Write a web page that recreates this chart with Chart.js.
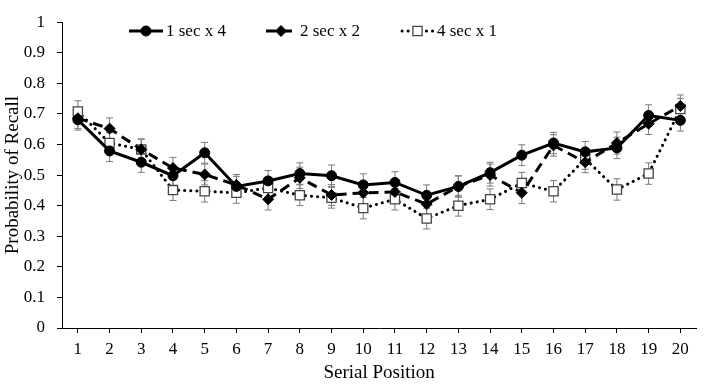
<!DOCTYPE html>
<html>
<head>
<meta charset="utf-8">
<style>
  html, body { margin: 0; padding: 0; background: #ffffff; }
  #wrap { width: 704px; height: 384px; }
</style>
<script src="https://cdn.jsdelivr.net/npm/chart.js@4.4.0/dist/chart.umd.min.js"></script>
</head>
<body>
<div id="wrap"><canvas id="c" width="704" height="384"></canvas></div>
<script>
// ---- data ----
const positions = ['1','2','3','4','5','6','7','8','9','10','11','12','13','14','15','16','17','18','19','20'];
const seriesNames = ['1 sec x 4', '2 sec x 2', '4 sec x 1'];
const oneSecX4 = [0.681, 0.579, 0.542, 0.498, 0.573, 0.463, 0.481, 0.505, 0.498, 0.468,
                  0.476, 0.434, 0.463, 0.508, 0.565, 0.605, 0.576, 0.589, 0.695, 0.679];
const twoSecX2 = [0.686, 0.652, 0.584, 0.523, 0.502, 0.468, 0.421, 0.491, 0.435, 0.442,
                  0.445, 0.405, 0.463, 0.500, 0.442, 0.597, 0.542, 0.605, 0.668, 0.726];
const fourSecX1 = [0.708, 0.605, 0.584, 0.451, 0.447, 0.442, 0.458, 0.434, 0.426, 0.392,
                   0.421, 0.358, 0.400, 0.421, 0.474, 0.447, 0.553, 0.453, 0.505, 0.716];
const errOne  = [0.034, 0.035, 0.033, 0.034, 0.034, 0.033, 0.034, 0.035, 0.035, 0.036,
                 0.035, 0.034, 0.035, 0.034, 0.034, 0.035, 0.034, 0.035, 0.035, 0.035];
const errTwo  = [0.034, 0.035, 0.034, 0.035, 0.034, 0.034, 0.035, 0.035, 0.034, 0.035,
                 0.034, 0.034, 0.034, 0.036, 0.035, 0.035, 0.034, 0.036, 0.035, 0.036];
const errFour = [0.035, 0.034, 0.034, 0.034, 0.035, 0.034, 0.035, 0.034, 0.034, 0.035,
                 0.035, 0.034, 0.034, 0.034, 0.035, 0.035, 0.034, 0.035, 0.035, 0.035];
const yTicks = [0, 0.1, 0.2, 0.3, 0.4, 0.5, 0.6, 0.7, 0.8, 0.9, 1];
const yTickLabels = ['0', '0.1', '0.2', '0.3', '0.4', '0.5', '0.6', '0.7', '0.8', '0.9', '1'];

const FONT = "'Liberation Serif', 'Times New Roman', serif";

const errorSets = [errOne, errTwo, errFour];

const errorBarPlugin = {
  id: 'errorBars',
  beforeDatasetsDraw(chart) {
    const ctx = chart.ctx;
    const xs = chart.scales.x, ys = chart.scales.y;
    ctx.save();
    ctx.strokeStyle = '#7a7a7a';
    ctx.lineWidth = 1;
    chart.data.datasets.forEach((ds, di) => {
      const errs = errorSets[di];
      ds.data.forEach((v, i) => {
        const x = xs.getPixelForValue(i);
        const yt = ys.getPixelForValue(v + errs[i]);
        const yb = ys.getPixelForValue(v - errs[i]);
        ctx.beginPath();
        ctx.moveTo(x, yt); ctx.lineTo(x, yb);
        ctx.moveTo(x - 3.5, yt); ctx.lineTo(x + 3.5, yt);
        ctx.moveTo(x - 3.5, yb); ctx.lineTo(x + 3.5, yb);
        ctx.stroke();
      });
    });
    ctx.restore();
  }
};

const legendPlugin = {
  id: 'inlineLegend',
  afterDraw(chart) {
    const ctx = chart.ctx;
    const y = 31;
    const items = [
      { x0: 129, x1: 163, tx: 166, ds: chart.data.datasets[0] },
      { x0: 266, x1: 296, tx: 300, ds: chart.data.datasets[1] },
      { x0: 402, x1: 433, tx: 437, ds: chart.data.datasets[2] }
    ];
    ctx.save();
    items.forEach((it, k) => {
      const ds = it.ds;
      ctx.beginPath();
      ctx.strokeStyle = ds.borderColor;
      ctx.lineWidth = ds.borderWidth;
      ctx.setLineDash(ds.borderDash || []);
      ctx.lineCap = ds.borderCapStyle || 'butt';
      ctx.moveTo(it.x0, y); ctx.lineTo(it.x1, y);
      ctx.stroke();
      ctx.setLineDash([]);
      ctx.lineCap = 'butt';
      ctx.fillStyle = ds.pointBackgroundColor;
      ctx.strokeStyle = ds.pointBorderColor;
      ctx.lineWidth = ds.pointBorderWidth;
      Chart.helpers.drawPoint(ctx, {
        pointStyle: ds.pointStyle,
        radius: ds.pointRadius,
        rotation: 0,
        borderWidth: ds.pointBorderWidth
      }, (it.x0 + it.x1) / 2, y);
      ctx.fillStyle = '#000';
      ctx.font = "17px " + FONT;
      ctx.textBaseline = 'middle';
      ctx.textAlign = 'left';
      ctx.fillText(seriesNames[k], it.tx, y + 1);
    });
    ctx.restore();
  }
};

new Chart(document.getElementById('c'), {
  type: 'line',
  data: {
    labels: positions,
    datasets: [
      {
        label: seriesNames[0],
        data: oneSecX4,
        borderColor: '#000',
        borderWidth: 3,
        pointStyle: 'circle',
        pointRadius: 5,
        pointBackgroundColor: '#000',
        pointBorderColor: '#000',
        pointBorderWidth: 1,
        tension: 0,
        order: 1
      },
      {
        label: seriesNames[1],
        data: twoSecX2,
        borderColor: '#000',
        borderWidth: 3,
        borderDash: [10, 6],
        pointStyle: 'rectRot',
        pointRadius: 5.5,
        pointBackgroundColor: '#000',
        pointBorderColor: '#000',
        pointBorderWidth: 1,
        tension: 0,
        order: 2
      },
      {
        label: seriesNames[2],
        data: fourSecX1,
        borderColor: '#000',
        borderWidth: 3,
        borderDash: [0.1, 6],
        borderCapStyle: 'round',
        pointStyle: 'rect',
        pointRadius: 6.5,
        pointBackgroundColor: '#fff',
        pointBorderColor: '#444',
        pointBorderWidth: 1.3,
        tension: 0,
        order: 3
      }
    ]
  },
  options: {
    responsive: false,
    animation: false,
    devicePixelRatio: 1,
    layout: { padding: { top: 12, right: 3, left: 0, bottom: 0 } },
    plugins: {
      legend: { display: false },
      tooltip: { enabled: false }
    },
    scales: {
      x: {
        type: 'category',
        offset: true,
        grid: { display: true, drawOnChartArea: false, drawTicks: true, tickLength: 5, color: '#000', offset: false },
        border: { display: true, color: '#000', width: 1 },
        ticks: { color: '#000', font: { family: FONT, size: 17 }, padding: 6, maxRotation: 0, autoSkip: false },
        title: { display: true, text: 'Serial Position', color: '#000', font: { family: FONT, size: 19 }, padding: { top: 0, bottom: 0 } },
        afterFit(scale) { scale.height = 56; }
      },
      y: {
        min: 0,
        max: 1,
        afterBuildTicks(scale) { scale.ticks = yTicks.map(v => ({ value: v })); },
        grid: { display: true, drawOnChartArea: false, drawTicks: true, tickLength: 5, color: '#000' },
        border: { display: true, color: '#000', width: 1 },
        ticks: {
          color: '#000', font: { family: FONT, size: 17 }, padding: 12,
          callback: (v, i) => yTickLabels[i]
        },
        title: { display: true, text: 'Probability of Recall', color: '#000', font: { family: FONT, size: 19 }, padding: { top: 2, bottom: 2 } },
        afterFit(scale) { scale.width = 62; }
      }
    }
  },
  plugins: [errorBarPlugin, legendPlugin]
});
</script>
</body>
</html>
